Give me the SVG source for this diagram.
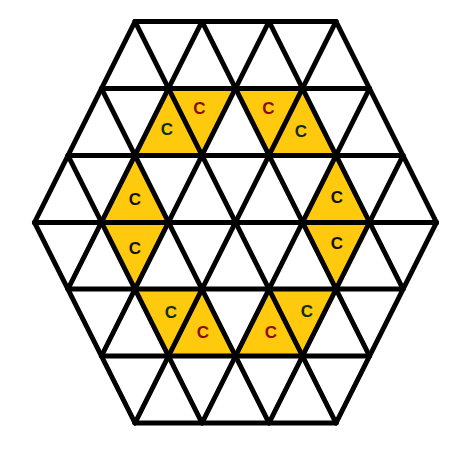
<svg xmlns="http://www.w3.org/2000/svg" width="466" height="456" viewBox="0 0 466 456">
<style>
.y{fill:#FFC90E;stroke:none}
.g line{stroke:#000;stroke-width:5;stroke-linecap:round}
text{font-family:"Liberation Sans",Arial,sans-serif;font-weight:bold;font-size:17px;text-anchor:middle}
.r{fill:#8B0A14}
.gr{fill:#0C2E16}
.k{fill:#111}
</style>
<rect width="466" height="456" fill="#fff"/>
<g id="fills">
<polygon class="y" points="168.5,88.5 135,155.5 202,155.5"/>
<polygon class="y" points="168.5,88.5 235.5,88.5 202,155.5"/>
<polygon class="y" points="235.5,88.5 302.5,88.5 269,155.5"/>
<polygon class="y" points="302.5,88.5 269,155.5 336,155.5"/>
<polygon class="y" points="135,155.5 101.5,222.5 168.5,222.5"/>
<polygon class="y" points="336,155.5 302.5,222.5 369.5,222.5"/>
<polygon class="y" points="101.5,222.5 168.5,222.5 135,289"/>
<polygon class="y" points="302.5,222.5 369.5,222.5 336,289"/>
<polygon class="y" points="135,289 202,289 168.5,356"/>
<polygon class="y" points="202,289 168.5,356 235.5,356"/>
<polygon class="y" points="269,289 235.5,356 302.5,356"/>
<polygon class="y" points="269,289 336,289 302.5,356"/>
</g>
<g id="connectors" class="g">
<line x1="135" y1="21.5" x2="336" y2="21.5"/>
<line x1="101.5" y1="88.5" x2="369.5" y2="88.5"/>
<line x1="68" y1="155.5" x2="403" y2="155.5"/>
<line x1="34.5" y1="222.5" x2="436.5" y2="222.5"/>
<line x1="68" y1="289" x2="403" y2="289"/>
<line x1="101.5" y1="356" x2="369.5" y2="356"/>
<line x1="135" y1="423" x2="336" y2="423"/>
<line x1="135" y1="21.5" x2="336" y2="423"/>
<line x1="202" y1="21.5" x2="369.5" y2="356"/>
<line x1="269" y1="21.5" x2="403" y2="289"/>
<line x1="336" y1="21.5" x2="436.5" y2="222.5"/>
<line x1="101.5" y1="88.5" x2="269" y2="423"/>
<line x1="68" y1="155.5" x2="202" y2="423"/>
<line x1="34.5" y1="222.5" x2="135" y2="423"/>
<line x1="336" y1="21.5" x2="135" y2="423"/>
<line x1="269" y1="21.5" x2="101.5" y2="356"/>
<line x1="202" y1="21.5" x2="68" y2="289"/>
<line x1="135" y1="21.5" x2="34.5" y2="222.5"/>
<line x1="369.5" y1="88.5" x2="202" y2="423"/>
<line x1="403" y1="155.5" x2="269" y2="423"/>
<line x1="436.5" y1="222.5" x2="336" y2="423"/>
</g>
<g id="labels">
<text class="gr" x="167" y="135">C</text>
<text class="r" x="199.5" y="114">C</text>
<text class="r" x="268.5" y="114">C</text>
<text class="gr" x="301" y="137">C</text>
<text class="k" x="135" y="205">C</text>
<text class="k" x="135" y="254">C</text>
<text class="k" x="337" y="203">C</text>
<text class="k" x="337" y="249">C</text>
<text class="gr" x="171" y="318">C</text>
<text class="r" x="203" y="338">C</text>
<text class="r" x="271" y="338">C</text>
<text class="gr" x="307" y="317">C</text>
</g>
</svg>
